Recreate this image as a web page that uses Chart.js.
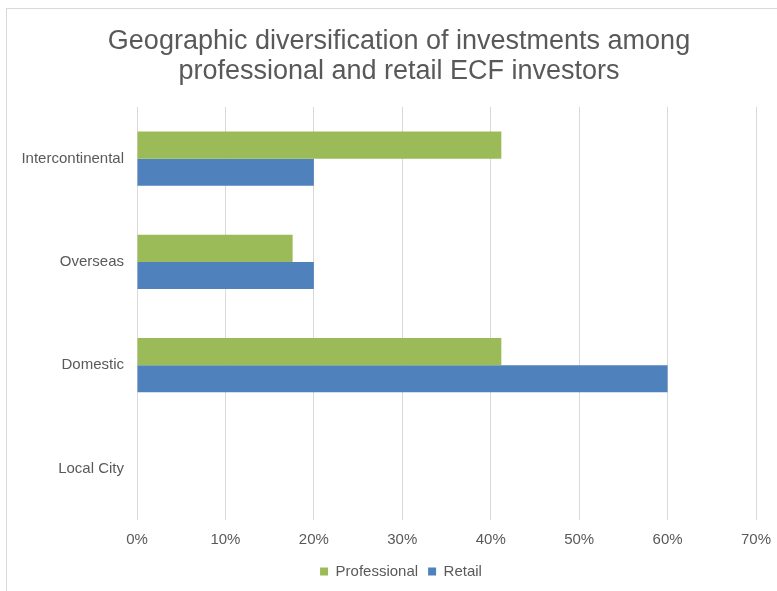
<!DOCTYPE html>
<html>
<head>
<meta charset="utf-8">
<script src="https://cdn.jsdelivr.net/npm/chart.js@4/dist/chart.umd.min.js"></script>
<style>
  html, body { margin: 0; padding: 0; background: #fff; overflow: hidden; }
  #frame { position: absolute; left: 6px; top: 8px; width: 820px; height: 640px; border: 1px solid #d9d9d9; }
  #wrap { position: absolute; left: 0; top: 0; width: 777px; height: 591px; }
</style>
</head>
<body>
<div id="frame"></div>
<div id="wrap"><canvas id="chart" width="777" height="591"></canvas></div>
<script>
// --- Data ---
const regions = ['Intercontinental', 'Overseas', 'Domestic', 'Local City'];
const professional = [41.2, 17.6, 41.2, 0];
const retail = [20, 20, 60, 0];
const titleLines = ['Geographic diversification of investments among', 'professional and retail ECF investors'];

const textColor = '#595959';
const font = 'Liberation Sans, Arial, sans-serif';

// two-line heading, drawn straight onto the canvas
const headingPlugin = {
    id: 'heading',
    afterLayout(chart) {
        // nudge the legend row a bit right of the canvas centre
        chart.legend.left += 23;
        chart.legend.right += 23;
    },
    afterDraw(chart) {
        const ctx = chart.ctx;
        ctx.save();
        ctx.fillStyle = textColor;
        ctx.font = `27px ${font}`;
        ctx.textAlign = 'center';
        ctx.textBaseline = 'alphabetic';
        ctx.fillText(titleLines[0], 399, 49);
        ctx.fillText(titleLines[1], 399, 79);
        ctx.restore();
    }
};

Chart.defaults.font.family = font;
Chart.defaults.color = textColor;

new Chart(document.getElementById('chart'), {
    type: 'bar',
    data: {
        labels: regions,
        datasets: [
            { label: 'Professional', data: professional, backgroundColor: '#9bbb59' },
            { label: 'Retail', data: retail, backgroundColor: '#4f81bd' }
        ]
    },
    options: {
        indexAxis: 'y',
        responsive: false,
        animation: false,
        categoryPercentage: 0.525,
        barPercentage: 1,
        layout: { padding: { top: 107, right: 21, bottom: 2, left: 0 } },
        plugins: {
            legend: {
                position: 'bottom',
                labels: { boxWidth: 8, boxHeight: 8, padding: 10, font: { size: 15 }, color: textColor }
            },
            tooltip: { enabled: false }
        },
        scales: {
            x: {
                min: 0, max: 70,
                ticks: { stepSize: 10, padding: 11, font: { size: 15 }, callback: v => v + '%' },
                grid: { color: '#d9d9d9', drawTicks: false },
                border: { display: false },
                afterFit: s => { s.height = 34; s.paddingLeft = 0; s.paddingRight = 0; }
            },
            y: {
                ticks: { padding: 13, font: { size: 15 } },
                grid: { display: false, drawTicks: false },
                border: { display: false },
                afterFit: s => { s.width = 137; }
            }
        }
    },
    plugins: [headingPlugin]
});
</script>
</body>
</html>
